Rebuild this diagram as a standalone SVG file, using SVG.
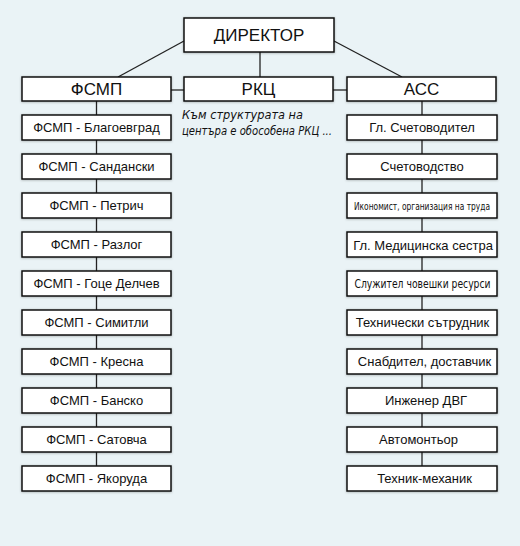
<svg xmlns="http://www.w3.org/2000/svg" width="520" height="546" viewBox="0 0 520 546">
<defs>
<filter id="sh" x="-10%" y="-30%" width="120%" height="160%">
<feDropShadow dx="0" dy="0.5" stdDeviation="1.2" flood-color="#000" flood-opacity="0.3"/>
</filter>
</defs>
<style>
.b{fill:#fff;stroke:#111;stroke-width:1.5;filter:url(#sh)}
.t{font-family:"Liberation Sans",Arial,sans-serif;font-size:13px;fill:#111;text-anchor:middle}
.n{font-family:"DejaVu Sans",sans-serif;font-stretch:condensed;font-size:10.5px;fill:#111;text-anchor:middle}
.h{font-family:"Liberation Sans",Arial,sans-serif;font-size:17px;fill:#111;text-anchor:middle}
.c{stroke:#222;stroke-width:1.3;fill:none}
.i{font-family:"DejaVu Sans",sans-serif;font-size:12px;font-style:italic;font-stretch:condensed;fill:#111}
</style>
<rect width="520" height="546" fill="#eaf3f6"/>
<g id="connectors">
<line class="c" x1="184" y1="41" x2="118" y2="77"/>
<line class="c" x1="334" y1="41" x2="402" y2="77"/>
<line class="c" x1="260" y1="52" x2="260" y2="77"/>
<line class="c" x1="171" y1="90" x2="184" y2="90"/>
<line class="c" x1="333" y1="90" x2="347" y2="90"/>
<line class="c" x1="96.5" y1="101" x2="96.5" y2="466"/>
<line class="c" x1="422" y1="101" x2="422" y2="466"/>
</g>
<g id="director"><rect class="b" x="184" y="18" width="150" height="34"/><text class="h" x="259" y="41">ДИРЕКТОР</text></g>
<g id="fsmp"><rect class="b" x="22" y="77" width="149" height="24"/><text class="h" x="96.5" y="95">ФСМП</text></g>
<g id="rkc"><rect class="b" x="184" y="77" width="149" height="24"/><text class="h" x="258.5" y="95">РКЦ</text></g>
<g id="acc"><rect class="b" x="347" y="77" width="149" height="24"/><text class="h" x="421.5" y="95">АСС</text></g>
<g id="note"><text class="i" x="182" y="119" textLength="121" lengthAdjust="spacingAndGlyphs">Към структурата на</text><text class="i" x="182" y="135" textLength="150" lengthAdjust="spacingAndGlyphs">центъра е обособена РКЦ ...</text></g>
<g id="l0"><rect class="b" x="22" y="115" width="149" height="25"/><text class="t" x="96.5" y="132">ФСМП - Благоевград</text></g>
<g id="l1"><rect class="b" x="22" y="154" width="149" height="25"/><text class="t" x="96.5" y="171">ФСМП - Сандански</text></g>
<g id="l2"><rect class="b" x="22" y="193" width="149" height="25"/><text class="t" x="96.5" y="210">ФСМП - Петрич</text></g>
<g id="l3"><rect class="b" x="22" y="232" width="149" height="25"/><text class="t" x="96.5" y="249">ФСМП - Разлог</text></g>
<g id="l4"><rect class="b" x="22" y="271" width="149" height="25"/><text class="t" x="96.5" y="288">ФСМП - Гоце Делчев</text></g>
<g id="l5"><rect class="b" x="22" y="310" width="149" height="25"/><text class="t" x="96.5" y="327">ФСМП - Симитли</text></g>
<g id="l6"><rect class="b" x="22" y="349" width="149" height="25"/><text class="t" x="96.5" y="366">ФСМП - Кресна</text></g>
<g id="l7"><rect class="b" x="22" y="388" width="149" height="25"/><text class="t" x="96.5" y="405">ФСМП - Банско</text></g>
<g id="l8"><rect class="b" x="22" y="427" width="149" height="25"/><text class="t" x="96.5" y="444">ФСМП - Сатовча</text></g>
<g id="l9"><rect class="b" x="22" y="466" width="149" height="25"/><text class="t" x="96.5" y="483">ФСМП - Якоруда</text></g>
<g id="r0"><rect class="b" x="347" y="115" width="150" height="25"/><text class="t" x="422" y="132">Гл. Счетоводител</text></g>
<g id="r1"><rect class="b" x="347" y="154" width="150" height="25"/><text class="t" x="422" y="171">Счетоводство</text></g>
<g id="r2"><rect class="b" x="347" y="193" width="150" height="25"/><text class="n" x="422" y="209.5" textLength="136" lengthAdjust="spacingAndGlyphs">Икономист, организация на труда</text></g>
<g id="r3"><rect class="b" x="347" y="232" width="150" height="25"/><text class="t" x="423" y="249.5">Гл. Медицинска сестра</text></g>
<g id="r4"><rect class="b" x="347" y="271" width="150" height="25"/><text class="n" x="422.5" y="288" textLength="136" lengthAdjust="spacingAndGlyphs" style="font-size:11.5px">Служител човешки ресурси</text></g>
<g id="r5"><rect class="b" x="347" y="310" width="150" height="25"/><text class="t" x="422.5" y="327">Технически сътрудник</text></g>
<g id="r6"><rect class="b" x="347" y="349" width="150" height="25"/><text class="t" x="424.5" y="366">Снабдител, доставчик</text></g>
<g id="r7"><rect class="b" x="347" y="388" width="150" height="25"/><text class="t" x="426" y="405">Инженер ДВГ</text></g>
<g id="r8"><rect class="b" x="347" y="427" width="150" height="25"/><text class="t" x="418.5" y="444">Автомонтьор</text></g>
<g id="r9"><rect class="b" x="347" y="466" width="150" height="25"/><text class="t" x="424.5" y="483">Техник-механик</text></g>
</svg>
